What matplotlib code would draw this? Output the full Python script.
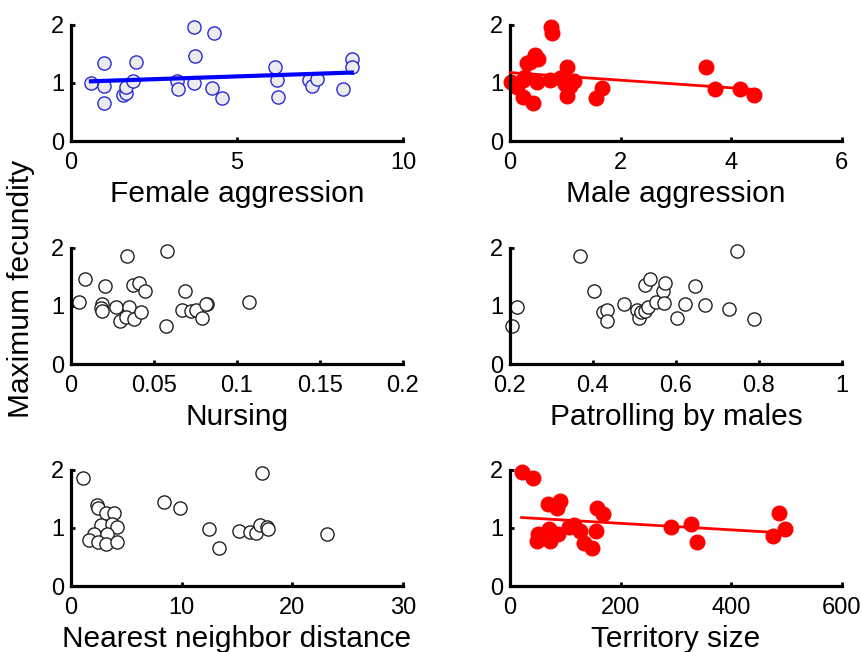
import numpy as np
import matplotlib
matplotlib.use('Agg')
import matplotlib.pyplot as plt

# maximum fecundity against each predictor
female_aggr_x = [0.6, 0.98, 1.0, 0.98, 1.56, 1.66, 1.66, 1.88, 1.95, 3.2, 3.23, 3.72, 3.75,
                 3.72, 4.3, 4.25, 4.54, 6.16, 6.2, 6.23, 7.17, 7.26, 7.42, 8.21, 8.46, 8.46]
female_aggr_y = [1.0, 1.35, 0.94, 0.66, 0.79, 0.82, 0.93, 1.03, 1.37, 1.04, 0.90, 1.96, 1.47,
                 1.0, 1.87, 0.92, 0.74, 1.28, 1.05, 0.76, 1.06, 0.95, 1.07, 0.89, 1.41, 1.27]

male_aggr_x = [0.01, 0.09, 0.13, 0.24, 0.27, 0.30, 0.36, 0.45, 0.51, 0.48, 0.24, 0.41, 0.74,
               0.76, 0.73, 0.91, 1.04, 1.0, 1.09, 1.15, 1.04, 1.56, 1.66, 3.54, 3.71, 4.16, 4.42]
male_aggr_y = [1.02, 0.97, 0.93, 1.05, 1.11, 1.35, 1.37, 1.48, 1.41, 1.01, 0.76, 0.65, 1.97,
               1.87, 1.05, 1.08, 1.28, 0.99, 0.94, 1.04, 0.78, 0.74, 0.92, 1.27, 0.90, 0.90, 0.80]

nursing_x = [0.005, 0.0084, 0.0205, 0.0185, 0.018, 0.0185, 0.027, 0.034, 0.035, 0.0295, 0.033,
             0.038, 0.0376, 0.041, 0.0446, 0.042, 0.058, 0.057, 0.0687, 0.0667, 0.0724, 0.0754,
             0.079, 0.082, 0.0814, 0.1075]
nursing_y = [1.07, 1.46, 1.34, 1.04, 0.96, 0.91, 0.99, 1.86, 0.99, 0.74, 0.81, 0.77, 1.36, 1.40,
             1.26, 0.90, 1.94, 0.66, 1.26, 0.93, 0.91, 0.93, 0.79, 1.04, 1.03, 1.07]

patrol_x = [0.206, 0.218, 0.368, 0.402, 0.424, 0.434, 0.433, 0.476, 0.506, 0.512, 0.515, 0.525,
            0.532, 0.525, 0.537, 0.553, 0.569, 0.573, 0.571, 0.602, 0.622, 0.645, 0.669, 0.728,
            0.747, 0.789]
patrol_y = [0.66, 0.99, 1.86, 1.26, 0.90, 0.93, 0.74, 1.04, 0.93, 0.79, 0.89, 0.91, 0.99, 1.36,
            1.46, 1.07, 1.26, 1.40, 1.05, 0.79, 1.03, 1.34, 1.02, 0.95, 1.94, 0.77]

nnd_x = [1.12, 2.35, 2.41, 3.16, 3.92, 2.71, 3.68, 4.16, 2.11, 3.23, 1.60, 2.41, 3.16, 4.13, 8.38,
         9.86, 12.45, 13.36, 15.22, 16.19, 16.73, 17.1, 17.24, 17.7, 17.79, 23.15]
nnd_y = [1.87, 1.40, 1.35, 1.25, 1.25, 1.05, 1.07, 1.02, 0.89, 0.89, 0.79, 0.76, 0.72, 0.75, 1.45,
         1.34, 0.98, 0.65, 0.94, 0.93, 0.91, 1.06, 1.94, 1.02, 0.99, 0.90]

territory_x = [21, 42, 68, 90, 85, 51, 48, 73, 70, 76, 87, 106, 115, 127, 134, 148, 157, 168,
               155, 292, 327, 339, 476, 487, 497]
territory_y = [1.96, 1.87, 1.41, 1.47, 1.34, 0.90, 0.78, 0.78, 0.98, 0.88, 0.90, 1.02, 1.05, 0.94,
               0.74, 0.65, 1.34, 1.24, 0.94, 1.01, 1.07, 0.75, 0.87, 1.26, 0.98]

# fitted lines (intercept, slope) as drawn in the figure
female_fit = (1.0175, 0.0192)
male_fit = (1.18, -0.0658)
territory_fit = (1.192, -0.00056)

x_labels = ['Female aggression', 'Male aggression', 'Nursing',
            'Patrolling by males', 'Nearest neighbor distance', 'Territory size']


def style_axis(ax, xlim, xticks, xticklabels):
    ax.set_xlim(*xlim)
    ax.set_ylim(0, 2)
    ax.set_xticks(xticks)
    ax.set_xticklabels(xticklabels)
    ax.set_yticks([0, 1, 2])
    for side in ['top', 'right']:
        ax.spines[side].set_visible(False)
    for side in ['left', 'bottom']:
        ax.spines[side].set_linewidth(2.3)
        ax.spines[side].set_color('black')
    ax.tick_params(direction='in', length=3, width=2, labelsize=17)
    ax.tick_params(axis='x', pad=8)
    ax.tick_params(axis='y', pad=5)
    ax.patch.set_alpha(0)


def add_fit(ax, x, fit, color, lw):
    xs = np.array([min(x), max(x)])
    ax.plot(xs, fit[0] + fit[1] * xs, color=color, lw=lw, zorder=3)


def main():
    plt.rcParams['font.family'] = ['Liberation Sans', 'DejaVu Sans']
    fig = plt.figure(figsize=(8.62, 6.52), dpi=100)
    lefts = [0.0824, 0.5916]
    bottoms = [0.7837, 0.4417, 0.1012]
    w, h = 0.385, 0.178
    axes = []
    for b in bottoms:
        for l in lefts:
            axes.append(fig.add_axes([l, b, w, h]))

    open_kw = dict(marker='o', ms=9.5, ls='none', mew=1.0)
    red_kw = dict(marker='o', ms=10.5, ls='none', color='#ff0000', mec='#ff0000')

    ax = axes[0]
    add_fit(ax, female_aggr_x, female_fit, '#0000ff', 3.0)
    ax.plot(female_aggr_x, female_aggr_y, mfc='#ececec', mec='#2a2ad8', **open_kw)
    style_axis(ax, (0, 10), [0, 5, 10], ['0', '5', '10'])

    ax = axes[1]
    ax.plot(male_aggr_x, male_aggr_y, **red_kw)
    add_fit(ax, male_aggr_x, male_fit, '#ff0000', 2.0)
    style_axis(ax, (0, 6), [0, 2, 4, 6], ['0', '2', '4', '6'])

    ax = axes[2]
    ax.plot(nursing_x, nursing_y, mfc='white', mec='#222222', **open_kw)
    style_axis(ax, (0, 0.2), [0, 0.05, 0.1, 0.15, 0.2], ['0', '0.05', '0.1', '0.15', '0.2'])

    ax = axes[3]
    ax.plot(patrol_x, patrol_y, mfc='white', mec='#222222', **open_kw)
    style_axis(ax, (0.2, 1), [0.2, 0.4, 0.6, 0.8, 1], ['0.2', '0.4', '0.6', '0.8', '1'])

    ax = axes[4]
    ax.plot(nnd_x, nnd_y, mfc='white', mec='#222222', **open_kw)
    style_axis(ax, (0, 30), [0, 10, 20, 30], ['0', '10', '20', '30'])

    ax = axes[5]
    ax.plot(territory_x, territory_y, **red_kw)
    add_fit(ax, territory_x, territory_fit, '#ff0000', 2.0)
    style_axis(ax, (0, 600), [0, 200, 400, 600], ['0', '200', '400', '600'])

    for ax, lab in zip(axes, x_labels):
        ax.set_xlabel(lab, fontsize=21.5, labelpad=4)
        for pt in ax.lines:
            pt.set_clip_on(False)

    fig.text(0.024, 0.557, 'Maximum fecundity', rotation=90, fontsize=21.5,
             ha='center', va='center')
    fig.savefig('out.png', dpi=100)


if __name__ == '__main__':
    main()
